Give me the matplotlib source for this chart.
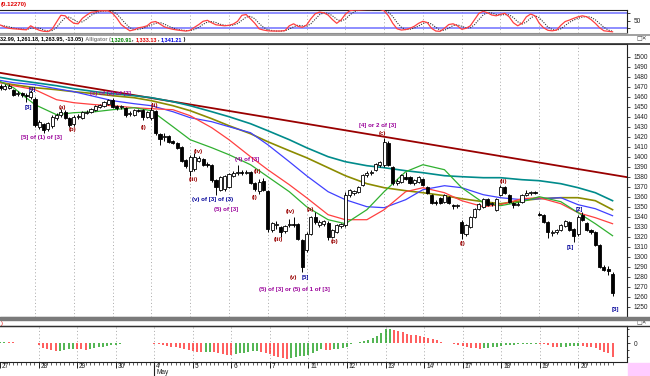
import matplotlib
matplotlib.use("Agg")
import matplotlib.pyplot as plt
import numpy as np
import matplotlib.transforms as mtransforms
from matplotlib.patches import Rectangle
from matplotlib.lines import Line2D

plt.rcParams['font.family'] = ['Liberation Sans', 'DejaVu Sans']

# ---------------- data ----------------
day_labels = ["27", "28", "29", "30", "4", "5", "6", "7", "11", "12", "13", "14", "17", "18", "19", "20"]
month_label = "May"
month_day_index = 4
bars_per_day = 9

opens = [1470,1471,1468,1469,1467,1463,1464,1462,1460,
         1458,1430,1433,1428,1431,1439,1442,1445,1439,
         1433,1440,1439,1444,1445,1447,1450,1451,1453,
         1457,1451,1450,1449,1443,1442,1447,1447,1440,
         1439,1446,1423,1420,1421,1416,1414,1410,1397,
         1386,1388,1396,1398,1393,1392,1377,1367,1368,
         1370,1381,1384,1385,1384,1385,1374,1366,1376,
         1366,1327,1332,1330,1326,1332,1333,1333,1317,
         1307,1323,1340,1332,1333,1334,1320,1325,1331,
         1332,1362,1364,1365,1372,1382,1384,1387,1392,
         1392,1414,1390,1374,1375,1380,1380,1374,1375,
         1378,1370,1362,1355,1359,1355,1360,1352,1351,
         1335,1323,1330,1340,1348,1350,1358,1353,1347,
         1362,1370,1362,1354,1352,1355,1362,1364,1365,
         1343,1342,1335,1324,1325,1327,1331,1335,1328,
         1323,1342,1334,1327,1325,1312,1290,1288,1283]
highs = [1474,1473,1473,1473,1468,1466,1465,1464,1467,
         1460,1437,1434,1435,1442,1444,1448,1447,1440,
         1442,1443,1446,1447,1449,1452,1453,1456,1458,
         1459,1452,1452,1450,1446,1448,1448,1448,1446,
         1450,1447,1424,1424,1422,1417,1415,1411,1398,
         1402,1404,1401,1399,1395,1393,1378,1381,1382,
         1384,1386,1392,1387,1387,1386,1375,1378,1379,
         1367,1335,1336,1331,1332,1338,1340,1334,1318,
         1325,1341,1345,1337,1337,1336,1328,1333,1334,
         1365,1368,1367,1371,1383,1386,1387,1394,1396,
         1419,1416,1391,1378,1383,1385,1381,1378,1381,
         1379,1371,1363,1357,1360,1363,1361,1353,1353,
         1337,1333,1341,1349,1354,1359,1359,1355,1359,
         1372,1371,1363,1355,1355,1363,1367,1366,1366,
         1345,1343,1336,1327,1328,1333,1337,1336,1329,
         1342,1345,1335,1328,1326,1313,1292,1291,1285]
lows = [1468,1467,1467,1468,1461,1461,1460,1455,1458,
        1430,1428,1424,1426,1429,1437,1440,1438,1430,
        1431,1438,1438,1443,1444,1446,1449,1450,1452,
        1449,1447,1448,1440,1441,1441,1445,1437,1439,
        1437,1422,1412,1416,1414,1413,1408,1395,1389,
        1381,1386,1395,1391,1390,1375,1362,1366,1366,
        1369,1380,1382,1382,1383,1373,1366,1363,1366,
        1325,1325,1328,1320,1324,1330,1330,1317,1285,
        1305,1322,1333,1330,1331,1317,1319,1324,1329,
        1330,1360,1362,1364,1371,1380,1382,1386,1390,
        1390,1391,1372,1372,1374,1377,1373,1372,1374,
        1371,1363,1353,1352,1353,1354,1353,1348,1349,
        1318,1321,1329,1339,1347,1349,1351,1351,1346,
        1361,1363,1354,1349,1351,1354,1361,1362,1363,
        1341,1334,1319,1321,1323,1326,1330,1326,1315,
        1321,1336,1326,1323,1311,1289,1286,1282,1261]
closes = [1472,1469,1471,1471,1462,1464,1462,1461,1465,
          1432,1435,1427,1434,1440,1442,1445,1439,1432,
          1440,1441,1445,1445,1448,1451,1452,1455,1457,
          1450,1449,1451,1442,1444,1447,1446,1440,1445,
          1447,1424,1418,1421,1415,1414,1409,1396,1391,
          1400,1400,1399,1392,1392,1377,1370,1380,1381,
          1383,1384,1385,1384,1385,1374,1368,1375,1367,
          1328,1334,1332,1325,1331,1333,1332,1318,1290,
          1323,1340,1335,1335,1336,1320,1327,1332,1333,
          1362,1367,1366,1370,1382,1384,1385,1393,1395,
          1415,1392,1374,1376,1382,1378,1374,1377,1380,
          1372,1364,1354,1354,1354,1362,1354,1351,1352,
          1324,1332,1340,1348,1353,1358,1352,1354,1358,
          1370,1364,1355,1352,1353,1362,1364,1365,1364,
          1342,1335,1325,1324,1327,1332,1336,1327,1321,
          1340,1337,1327,1325,1312,1290,1287,1286,1264]

ao_values = [1.5,1.7,1.5,1.2,0.3,0.1,0.5,0.7,0.4,
             -2.0,-4.3,-6.0,-6.7,-7.7,-7.3,-6.7,-6.0,-5.3,
             -5.5,-6.0,-6.2,-5.3,-4.7,-4.0,-3.3,-2.7,-2.0,
             -1.3,-0.7,0.3,0.6,0.4,0.5,0.7,0.5,0.3,
             -0.3,-1.0,-2.0,-2.7,-3.3,-4.0,-4.7,-5.5,-6.3,
             -7.5,-8.3,-9.0,-8.7,-8.3,-9.0,-10.0,-11.0,-11.5,
             -12.0,-11.0,-10.0,-9.3,-8.7,-8.0,-7.7,-8.3,-9.3,
             -11.0,-12.5,-13.5,-14.5,-16.0,-15.0,-14.0,-13.0,-12.5,
             -11.5,-10.0,-8.0,-6.0,-6.3,-6.7,-6.0,-5.5,-5.0,
             -4.0,-1.0,0.5,1.3,2.3,3.5,5.0,7.0,10.0,
             14.0,14.3,13.3,12.7,11.7,9.3,8.3,8.0,7.3,
             6.7,5.7,4.3,3.3,1.5,0.7,0.3,-0.3,-1.5,
             -2.5,-3.5,-4.7,-5.0,-5.7,-5.0,-4.3,-4.0,-3.3,
             -2.7,-2.0,-1.7,-1.3,-1.0,-0.7,-0.5,-0.3,-0.2,
             -0.6,-1.0,-2.0,-3.3,-4.0,-3.5,-3.2,-3.0,-2.5,
             -2.3,-2.7,-3.3,-4.0,-5.0,-6.7,-8.3,-10.0,-13.3]

stoch_k = [30,33,25,20,18,17,15,14,30,
           20,12,8,7,17,45,72,70,53,
           40,38,60,73,84,86,90,90,90,
           80,60,35,22,10,14,22,25,30,
           44,47,37,26,20,16,13,11,9,
           12,24,35,48,52,42,34,32,30,
           32,37,48,72,75,58,40,18,13,
           10,9,9,9,11,30,38,28,24,
           33,58,78,85,82,73,55,40,53,
           76,90,93,93,94,95,95,96,96,
           90,70,40,18,13,15,20,28,40,
           48,43,20,9,8,20,35,38,30,
           16,20,30,55,80,88,82,73,70,
           76,80,66,42,30,40,66,77,70,
           40,22,12,10,13,32,47,53,60,
           66,70,66,55,40,22,10,8,6]
stoch_d = [32,32,29,26,21,18,17,15,20,
           21,21,13,9,11,23,45,62,65,
           54,44,46,57,72,81,87,89,90,
           87,77,58,39,22,15,15,20,26,
           33,40,43,37,28,21,16,13,11,
           11,15,24,36,45,47,43,36,32,
           31,33,39,52,65,68,58,39,24,
           14,11,9,9,10,17,26,32,30,
           28,38,56,74,82,80,70,56,49,
           56,73,86,92,93,94,95,95,96,
           94,85,67,43,24,15,16,21,29,
           39,44,37,24,12,12,21,31,34,
           28,22,22,35,55,74,83,81,75,
           73,75,74,63,46,37,45,61,71,
           62,44,25,15,12,18,31,44,53,
           60,65,67,64,54,39,24,13,8]

line_bars = [0,4,9,14,18,23,27,32,36,41,45,50,54,59,63,68,72,77,81,86,90,95,99,104,108,113,117,122,126,131,135,139,143]
teal_line = [1480,1477,1474,1471,1468,1465,1463,1461,1459,1455,1451,1445,1440,1433,1426,1417,1409,1400,1395,1391,1389,1386,1384,1381,1380,1379,1379,1377,1376,1373,1369,1364,1356]
olive_line = [1475,1472,1469,1467,1465,1463,1461,1459,1456,1451,1446,1438,1431,1423,1415,1406,1399,1389,1381,1373,1369,1366,1364,1361,1358,1355,1353,1356,1358,1359,1359,1356,1347]
jaw_line = [1477,1474,1472,1468,1465,1460,1456,1453,1451,1445,1439,1435,1430,1424,1412,1395,1381,1365,1357,1350,1349,1357,1367,1371,1369,1362,1359,1357,1358,1359,1352,1348,1341]
teeth_line = [1475,1471,1467,1457,1454,1452,1451,1449,1448,1447,1441,1429,1417,1400,1387,1372,1359,1342,1337,1337,1347,1365,1369,1364,1356,1350,1352,1358,1359,1353,1344,1339,1333]
lips_line = [1477,1469,1452,1442,1444,1445,1447,1449,1446,1430,1417,1409,1402,1392,1380,1365,1350,1337,1333,1347,1365,1385,1392,1387,1369,1354,1351,1355,1360,1355,1344,1333,1321]

trend_bars = [0.0, 146.4]
trend_vals = [1484.5, 1379.5]

price_ticks = list(range(1250, 1510, 10))

BLUE_T = "#000099"; PURP = "#990099"; DRED = "#990000"
wave_labels = [
    (8.3, 1467.7, "[4]", BLUE_T), (7.4, 1449.7, "[3]", BLUE_T),
    (10.6, 1419.7, "[5] of (1) of [3]", PURP),
    (15.3, 1449.7, "(a)", DRED), (17.8, 1427.7, "(b)", DRED),
    (26.6, 1463.7, "(c) of (2) of [3]", PURP),
    (36.8, 1451.7, "(ii)", DRED), (34.1, 1428.7, "(i)", DRED),
    (45.7, 1376.7, "(iii)", DRED), (46.8, 1404.7, "(iv)", DRED),
    (58.2, 1397.7, "(4) of [3]", PURP),
    (60.7, 1384.7, "(ii)", DRED), (60.0, 1359.7, "(i)", DRED),
    (50.1, 1356.7, "(v) of [3] of (3)", BLUE_T),
    (53.3, 1346.7, "(5) of [3]", PURP),
    (65.4, 1316.7, "(iii)", DRED), (68.2, 1344.7, "(iv)", DRED),
    (68.9, 1278.7, "(v)", DRED), (71.6, 1278.7, "[5]", BLUE_T),
    (69.2, 1266.7, "(5) of [3] or (5) of 1 of [3]", PURP),
    (72.8, 1346.7, "(a)", DRED), (78.6, 1314.7, "(b)", DRED),
    (88.6, 1431.7, "[4] or 2 of [3]", PURP), (89.5, 1423.7, "(c)", DRED),
    (108.1, 1313.7, "(i)", DRED), (117.6, 1375.7, "(ii)", DRED),
    (133.1, 1309.7, "[1]", BLUE_T), (135.4, 1346.7, "[2]", BLUE_T),
    (143.6, 1246.7, "[3]", BLUE_T),
]

header_parts = [("32.99, 1,261.18, 1,263.95, -13.05)", '#000000'),
                (" Alligator (", '#808080'),
                ("1,320.91", '#008000'),
                (", ", '#000000'),
                ("1,333.13", '#e00000'),
                (", ", '#000000'),
                ("1,341.21", '#0000e0'),
                (" )", '#000000')]

# ---------------- figure ----------------
W, H = 650, 376
fig = plt.figure(figsize=(W / 100, H / 100), dpi=100)
fig.patch.set_facecolor("white")

def fy(py):
    return 1 - py / H

PLOT_W = 627 / W
ax_s = fig.add_axes([0, fy(33), PLOT_W, 23 / H])
ax_m = fig.add_axes([0, fy(317), PLOT_W, 273 / H])
ax_a = fig.add_axes([0, fy(362), PLOT_W, 36 / H])

n = len(closes)
x = np.arange(n)
XLIM = (0.88, 146.35)
day_starts = [d * bars_per_day for d in range(len(day_labels))]

for ax in (ax_s, ax_m, ax_a):
    ax.set_xlim(*XLIM)
    ax.set_facecolor("white")
    ax.spines['left'].set_visible(False)
    for s in ('top', 'right', 'bottom'):
        ax.spines[s].set_color('#202020')
        ax.spines[s].set_linewidth(0.8)
    for d in day_starts[1:]:
        ax.axvline(d, color='#a8a8a8', lw=0.7, ls=(0, (1, 2.5)), zorder=0)
    ax.yaxis.tick_right()
    ax.tick_params(axis='y', labelsize=4.7, length=2.5, width=0.6, pad=2.5, colors='#202020')
    ax.tick_params(axis='x', which='both', bottom=False, labelbottom=False)

# ---- stochastic panel ----
ax_s.set_ylim(1.2, 93.2)
ax_s.axhline(80, color='#6f6fff', lw=1.1, zorder=1)
ax_s.axhline(20, color='#6f6fff', lw=1.1, zorder=1)
ax_s.plot(x, stoch_d, color='#333333', lw=0.8, ls=(0, (1, 1.2)), zorder=2)
ax_s.plot(x, stoch_k, color='#ff4040', lw=0.9, zorder=3)
ax_s.set_yticks([20, 50, 80])
ax_s.set_yticklabels(['', '50', ''])
ax_s.spines['bottom'].set_color('#909090')

# ---- main panel ----
ax_m.set_ylim(1239.7, 1512.7)
ax_m.set_yticks(price_ticks)
ax_m.set_yticklabels([str(v) for v in price_ticks])

ax_m.plot(trend_bars, trend_vals, color='#990000', lw=1.3, zorder=2)
ax_m.plot(line_bars, teal_line, color='#008b8b', lw=1.2, zorder=2)
ax_m.plot(line_bars, olive_line, color='#8b8b00', lw=1.2, zorder=2)
ax_m.plot(line_bars, jaw_line, color='#4040ff', lw=0.9, zorder=2)
ax_m.plot(line_bars, teeth_line, color='#ff4040', lw=0.9, zorder=2)
ax_m.plot(line_bars, lips_line, color='#30b030', lw=0.9, zorder=2)

o = np.array(opens, float); c = np.array(closes, float)
hi = np.array(highs, float); lo = np.array(lows, float)
ax_m.vlines(x, lo, hi, color='black', lw=0.7, zorder=3)
up = c >= o
body_bottom = np.minimum(o, c)
body_h = np.maximum(np.abs(c - o), 0.6)
ax_m.bar(x[up], body_h[up], bottom=body_bottom[up], width=0.72,
         color='white', edgecolor='black', linewidth=0.6, zorder=4)
ax_m.bar(x[~up], body_h[~up], bottom=body_bottom[~up], width=0.72,
         color='black', edgecolor='black', linewidth=0.6, zorder=4)

for bx, by, txt, col in wave_labels:
    ax_m.text(bx, by, txt, color=col, fontsize=4.4, fontweight='bold',
              ha='center', va='center', zorder=6)

# ---- AO panel ----
ao = np.array(ao_values)
rising = np.concatenate([[ao[0] > 0], ao[1:] > ao[:-1]])
ao_cols = np.where(rising, '#22a022', '#ff3030')
ax_a.vlines(x, 0, ao, colors=ao_cols, lw=1.1, zorder=2)
ax_a.set_ylim(-18.7, 17.3)
ax_a.set_yticks([0])
ax_a.set_yticklabels(['0'])
ax_a.set_yticks([-14, -7, 7, 14], minor=True)
ax_a.tick_params(axis='y', which='minor', length=1.5, width=0.5)

ax_a.tick_params(axis='x', which='both', bottom=True, direction='out', colors='#202020')
ax_a.set_xticks(day_starts)
ax_a.set_xticks(x, minor=True)
ax_a.tick_params(axis='x', which='major', length=4, width=0.7)
ax_a.tick_params(axis='x', which='minor', length=2, width=0.5)

trans = mtransforms.blended_transform_factory(ax_a.transData, fig.transFigure)
for d, lab in zip(day_starts, day_labels):
    fig.text(d + 0.45, fy(366), lab, transform=trans, fontsize=4.7,
             ha='left', va='center', color='#202020')
md = day_starts[month_day_index]
fig.text(md + 0.45, fy(372.5), month_label, transform=trans, fontsize=4.7,
         ha='left', va='center', color='#202020')
fig.add_artist(Line2D([md, md], [fy(362), fy(376)], transform=trans,
                      color='#202020', lw=0.8))

# ---------------- separators & headers ----------------
fig.add_artist(Line2D([0, 1], [fy(34.5), fy(34.5)], color='#909090', lw=1.2))
fig.add_artist(Line2D([0, 1], [fy(43.5), fy(43.5)], color='#303030', lw=1.2))
fig.add_artist(Rectangle((0, fy(320)), 1, 3 / H, transform=fig.transFigure,
                         color='#7a7a7a', zorder=5))
fig.add_artist(Line2D([0, 1], [fy(326), fy(326)], color='#303030', lw=1.0))
fig.add_artist(Rectangle((628 / W, 0), 22 / W, 13 / H, transform=fig.transFigure,
                         color='#ffccff', zorder=5))

fig.text(1 / W, fy(4.5), "(0.12270)", color='#e00000', fontsize=4.4,
         fontweight='bold', ha='left', va='center')

# header pieces laid out one after another
renderer = fig.canvas.get_renderer()
cur = 0.0
for t, col in header_parts:
    txt = fig.text(cur / W, fy(40), t, color=col, fontsize=4.0, fontweight='bold',
                   ha='left', va='center')
    bb = txt.get_window_extent(renderer=renderer)
    cur = bb.x1 + 0.3

fig.text(1 / W, fy(323), ")", color='#e00000', fontsize=4.1, ha='left', va='center')
for py in (39, 322.5):
    fig.text(636 / W, fy(py), "\u25a1\u2715", color='#404040', fontsize=4.3,
             ha='left', va='center', family=['DejaVu Sans'])

fig.savefig("out.png", dpi=100, facecolor='white')
